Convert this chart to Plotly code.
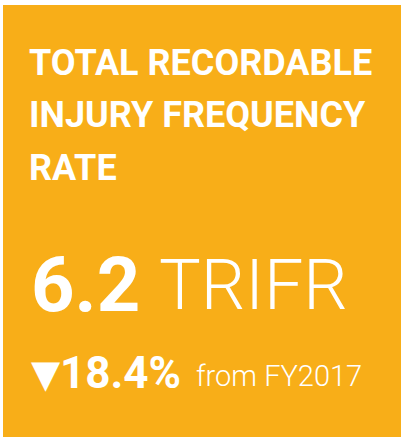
import plotly.graph_objects as go

# ---- data ----
title_lines = ["TOTAL RECORDABLE", "INJURY FREQUENCY", "RATE"]
metric_value = 6.2
metric_unit = "TRIFR"
change_pct = 18.4
change_marker = "▼"
comparison_label = "from FY2017"

W, H = 404, 437
BG = "#F8AE18"


def px(x):
    return x / W


def py(y):
    return 1 - y / H


fig = go.Figure()
fig.update_layout(
    width=W, height=H,
    margin=dict(l=0, r=0, t=0, b=0),
    paper_bgcolor="white", plot_bgcolor="white",
    xaxis=dict(visible=False, range=[0, 1]),
    yaxis=dict(visible=False, range=[0, 1]),
    showlegend=False,
)

fig.add_shape(type="rect", xref="paper", yref="paper",
              x0=px(3), x1=px(401), y0=py(437), y1=py(5),
              fillcolor=BG, line=dict(width=0), layer="below")

anns = []
for i, line in enumerate(title_lines):
    anns.append(dict(text=line, x=px(27), y=py(62.5 + i * 53), xanchor="left", yanchor="middle",
                     font=dict(family="Roboto", size=36, color="white", weight=700)))

anns.append(dict(text=f"{metric_value:.1f}", x=px(29), y=py(284.5), xanchor="left", yanchor="middle",
                 font=dict(family="Roboto", size=76, color="white", weight=700)))
anns.append(dict(text=metric_unit, x=px(157), y=py(284.5), xanchor="left", yanchor="middle",
                 font=dict(family="Roboto", size=70, color="white", weight=300)))

anns.append(dict(text=change_marker, x=px(29), y=py(374), xanchor="left", yanchor="middle",
                 font=dict(family="DejaVu Sans", size=38, color="white")))
anns.append(dict(text=f"{change_pct:.1f}%", x=px(58), y=py(372.5), xanchor="left", yanchor="middle",
                 font=dict(family="Roboto", size=44, color="white", weight=700)))
anns.append(dict(text=comparison_label, x=px(194), y=py(376), xanchor="left", yanchor="middle",
                 font=dict(family="Roboto", size=29, color="white", weight=300)))

for a in anns:
    a.update(xref="paper", yref="paper", showarrow=False)
fig.update_layout(annotations=anns)

fig.write_html("out.html", config={"displayModeBar": False},
               post_script="document.body.style.margin='0';")
